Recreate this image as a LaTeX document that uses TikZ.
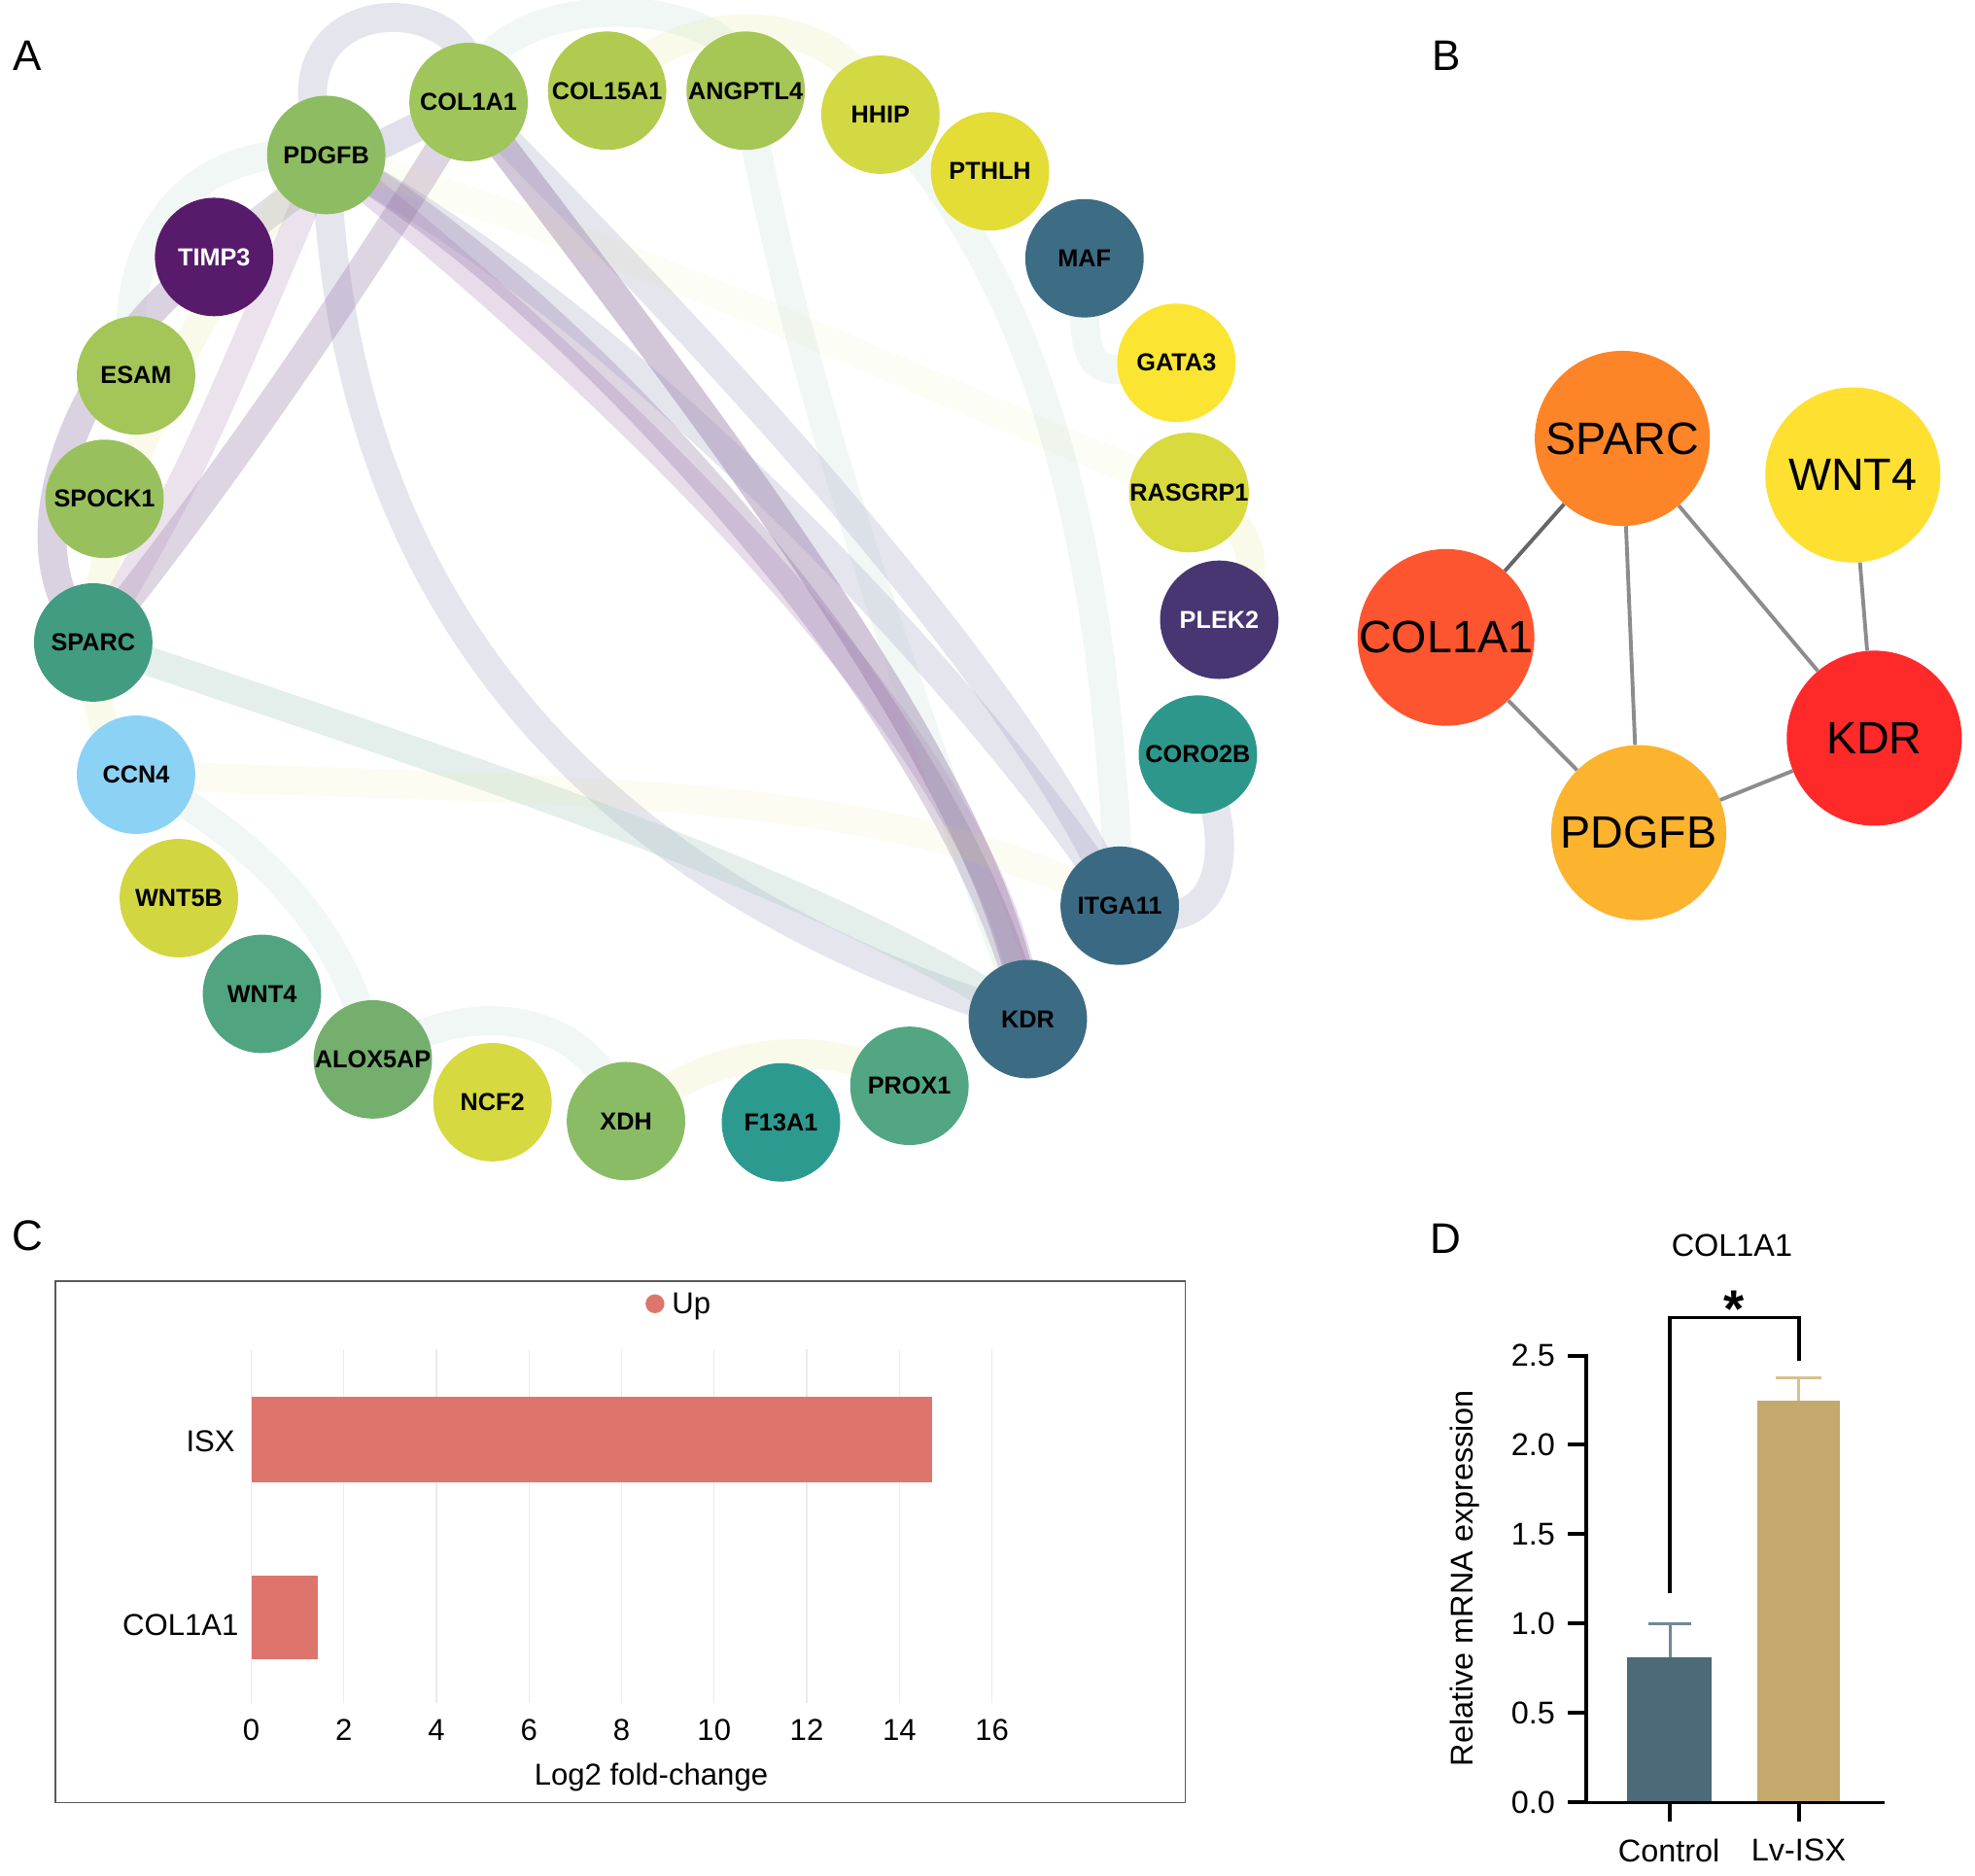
\documentclass[tikz,border=0pt]{standalone}
\usepackage{fontspec}
\setmainfont{Liberation Sans}
\usepackage{xcolor}
\usetikzlibrary{positioning}

% node colours, panel A
\definecolor{cCOLIAI}{HTML}{9FC55B}
\definecolor{cCOLXV}{HTML}{B0CB4F}
\definecolor{cANGPTL}{HTML}{A6C655}
\definecolor{cHHIP}{HTML}{D3D942}
\definecolor{cPTHLH}{HTML}{E3DD36}
\definecolor{cMAF}{HTML}{3D6C85}
\definecolor{cGATA}{HTML}{FBE532}
\definecolor{cRASGRP}{HTML}{D8DA3D}
\definecolor{cPLEK}{HTML}{473672}
\definecolor{cCORO}{HTML}{2E978C}
\definecolor{cITGA}{HTML}{3A6A83}
\definecolor{cKDR}{HTML}{3C6C84}
\definecolor{cPROX}{HTML}{52A684}
\definecolor{cFXIII}{HTML}{2D9A8F}
\definecolor{cXDH}{HTML}{8ABC65}
\definecolor{cNCF}{HTML}{D6D93F}
\definecolor{cALOX}{HTML}{74AF6E}
\definecolor{cWNTfour}{HTML}{50A47F}
\definecolor{cWNTfiveB}{HTML}{D2D641}
\definecolor{cCCN}{HTML}{8CD2F5}
\definecolor{cSPARC}{HTML}{419C82}
\definecolor{cSPOCK}{HTML}{98C15D}
\definecolor{cESAM}{HTML}{A4C557}
\definecolor{cTIMP}{HTML}{581B6C}
\definecolor{cPDGFB}{HTML}{8DBC62}
% edge colours, panel A
\definecolor{tiepurple}{HTML}{8A6A9C}
\definecolor{tielav}{HTML}{9A98BE}
\definecolor{tiepink}{HTML}{B48EBE}
\definecolor{tieteal}{HTML}{A7CBC0}
\definecolor{tieyellow}{HTML}{E2E47A}
% panel B
\definecolor{hubSPARC}{HTML}{FD8427}
\definecolor{hubWNT}{HTML}{FEE030}
\definecolor{hubCOL}{HTML}{FD5530}
\definecolor{hubKDR}{HTML}{FE2A2A}
\definecolor{hubPDGFB}{HTML}{FCB32E}
\definecolor{linkgray}{HTML}{8C8C8C}
% panels C and D
\definecolor{upred}{HTML}{DD756D}
\definecolor{ctrlblue}{HTML}{4D6A78}
\definecolor{ctrlerr}{HTML}{6E8896}
\definecolor{lvtan}{HTML}{C5A86B}
\definecolor{lverr}{HTML}{D6C08F}

\pgfdeclarelayer{bg}
\pgfdeclarelayer{ties}
\pgfsetlayers{bg,ties,main}

\begin{document}
\begin{tikzpicture}[x=1pt, y=-1pt,
    gene/.style={circle, minimum size=94pt, inner sep=0pt, font=\fontsize{19.5}{20}\selectfont\bfseries},
    tie/.style={line width=23pt, line cap=round, opacity=0.25},
    faint/.style={opacity=0.15},
    hub/.style={circle, minimum size=139pt, inner sep=0pt, font=\fontsize{36}{36}\selectfont},
    link/.style={line width=3pt, draw=linkgray},
    panel/.style={font=\fontsize{34}{34}\selectfont},
    axislbl/.style={font=\fontsize{24}{24}\selectfont},
    dlbl/.style={font=\fontsize{25}{25}\selectfont},
    gridline/.style={line width=1pt, draw=black!8}]

    \useasboundingbox (0,0) rectangle (1568,1489);
    \begin{pgfonlayer}{bg}
    \fill[white] (0,0) rectangle (1568,1489);
    \end{pgfonlayer}

    % Panel letters
    \node[panel] (labA) at (22,44) {A};
    \node[panel] (labB) at (1148,44) {B};
    \node[panel] (labC) at (22,981) {C};
    \node[panel] (labD) at (1148,983) {D};

    % Panel A: circle of genes
    \node[gene, fill=cCOLIAI] (aCOL1A1) at (372,81) {COL1A1};
    \node[gene, fill=cCOLXV] (aCOL15A1) at (482,72) {COL15A1};
    \node[gene, fill=cANGPTL] (aANGPTL4) at (592,72) {ANGPTL4};
    \node[gene, fill=cHHIP] (aHHIP) at (699,91) {HHIP};
    \node[gene, fill=cPTHLH] (aPTHLH) at (786,136) {PTHLH};
    \node[gene, fill=cMAF] (aMAF) at (861,205) {MAF};
    \node[gene, fill=cGATA] (aGATA3) at (934,288) {GATA3};
    \node[gene, fill=cRASGRP] (aRASGRP1) at (944,391) {RASGRP1};
    \node[gene, fill=cPLEK, text=white] (aPLEK2) at (968,492) {PLEK2};
    \node[gene, fill=cCORO] (aCORO2B) at (951,599) {CORO2B};
    \node[gene, fill=cITGA] (aITGA11) at (889,719) {ITGA11};
    \node[gene, fill=cKDR] (aKDR) at (816,809) {KDR};
    \node[gene, fill=cPROX] (aPROX1) at (722,862) {PROX1};
    \node[gene, fill=cFXIII] (aF13A1) at (620,891) {F13A1};
    \node[gene, fill=cXDH] (aXDH) at (497,890) {XDH};
    \node[gene, fill=cNCF] (aNCF2) at (391,875) {NCF2};
    \node[gene, fill=cALOX] (aALOX5AP) at (296,841) {ALOX5AP};
    \node[gene, fill=cWNTfour] (aWNT4) at (208,789) {WNT4};
    \node[gene, fill=cWNTfiveB] (aWNT5B) at (142,713) {WNT5B};
    \node[gene, fill=cCCN] (aCCN4) at (108,615) {CCN4};
    \node[gene, fill=cSPARC] (aSPARC) at (74,510) {SPARC};
    \node[gene, fill=cSPOCK] (aSPOCK1) at (83,396) {SPOCK1};
    \node[gene, fill=cESAM] (aESAM) at (108,298) {ESAM};
    \node[gene, fill=cTIMP, text=white] (aTIMP3) at (170,204) {TIMP3};
    \node[gene, fill=cPDGFB] (aPDGFB) at (259,123) {PDGFB};

    % Panel A: ribbons behind the genes
    \begin{pgfonlayer}{ties}
    \draw[tie, tiepurple, opacity=0.38] (aCOL1A1.center) .. controls (560,330) and (790,620) .. (aKDR.center);
    \draw[tie, tiepink, opacity=0.3] (aPDGFB.center) .. controls (480,300) and (800,600) .. (aKDR.center);
    \draw[tie, tiepurple, opacity=0.28] (aPDGFB.center) .. controls (430,210) and (760,560) .. (aKDR.center);
    \draw[tie, tielav] (aCOL1A1.center) .. controls (620,330) and (820,560) .. (aITGA11.center);
    \draw[tie, tielav] (aPDGFB.center) .. controls (520,260) and (800,580) .. (aITGA11.center);
    \draw[tie, tielav] (aPDGFB.center) .. controls (270,520) and (520,720) .. (aKDR.center);
    \draw[tie, tieteal, opacity=0.3] (aSPARC.center) .. controls (400,620) and (650,700) .. (aKDR.center);
    \draw[tie, tiepurple, opacity=0.28] (aSPARC.center) .. controls (180,380) and (300,200) .. (aCOL1A1.center);
    \draw[tie, tiepink] (aSPARC.center) .. controls (150,380) .. (aPDGFB.center);
    \draw[tie, tiepurple, opacity=0.3] (aSPARC.center) .. controls (0,440) and (60,280) .. (aTIMP3.center);
    \draw[tie, tielav, opacity=0.3] (aTIMP3.center) .. controls (250,140) .. (aCOL1A1.center);
    \draw[tie, tielav] (aPDGFB.center) .. controls (200,-20) and (400,-10) .. (aCOL1A1.center);
    \draw[tie, tieteal, faint] (aCOL1A1.center) .. controls (380,-15) and (600,-10) .. (aANGPTL4.center);
    \draw[tie, tieteal, faint] (aANGPTL4.center) .. controls (640,350) and (760,650) .. (aKDR.center);
    \draw[tie, tieyellow, faint] (aCOL15A1.center) .. controls (560,-10) and (680,20) .. (aHHIP.center);
    \draw[tie, tieteal, faint] (aHHIP.center) .. controls (850,250) and (880,500) .. (aITGA11.center);
    \draw[tie, tieteal, faint] (aMAF.center) .. controls (860,300) .. (aGATA3.center);
    \draw[tie, tielav] (aCORO2B.center) .. controls (990,690) and (960,750) .. (aITGA11.center);
    \draw[tie, tieyellow, faint] (aRASGRP1.center) .. controls (1010,420) and (1000,470) .. (aPLEK2.center);
    \draw[tie, tieyellow, opacity=0.07] (aPDGFB.center) .. controls (520,200) and (760,320) .. (aRASGRP1.center);
    \draw[tie, tieyellow, opacity=0.09] (aCCN4.center) .. controls (450,630) and (700,620) .. (aITGA11.center);
    \draw[tie, tieyellow, faint] (aPDGFB.center) .. controls (120,260) and (20,540) .. (aCCN4.center);
    \draw[tie, tieteal, faint] (aPDGFB.center) .. controls (130,110) and (90,220) .. (aESAM.center);
    \draw[tie, tieteal, faint] (aCCN4.center) .. controls (230,680) and (280,760) .. (aALOX5AP.center);
    \draw[tie, tieteal, faint] (aALOX5AP.center) .. controls (370,790) and (470,800) .. (aXDH.center);
    \draw[tie, tieyellow, faint] (aXDH.center) .. controls (560,830) and (660,820) .. (aPROX1.center);
    \end{pgfonlayer}

    % Panel B: hub genes
    \node[hub, fill=hubSPARC] (bSPARC) at (1288,348) {SPARC};
    \node[hub, fill=hubWNT] (bWNT4) at (1471,377) {WNT4};
    \node[hub, fill=hubCOL] (bCOL1A1) at (1148,506) {COL1A1};
    \node[hub, fill=hubKDR] (bKDR) at (1488,586) {KDR};
    \node[hub, fill=hubPDGFB] (bPDGFB) at (1301,661) {PDGFB};

    \draw[link, draw=black!60] (bSPARC) -- (bCOL1A1);
    \draw[link] (bSPARC) -- (bPDGFB);
    \draw[link] (bSPARC) -- (bKDR);
    \draw[link] (bWNT4) -- (bKDR);
    \draw[link] (bCOL1A1) -- (bPDGFB);
    \draw[link] (bPDGFB) -- (bKDR);

    % Panel C: fold-change bars
    \draw[black!65, line width=1.5pt] (44,1017) rectangle (941,1431);
    \fill[upred] (520,1035) circle (7.5);
    \node[axislbl, right=2pt of {(528,1037)}] (upkey) {Up};
    \foreach \v in {0,2,...,16} {
        \draw[gridline] (199.5+36.75*\v,1071) -- (199.5+36.75*\v,1352);
        \node[axislbl] (ctick\v) at (199.5+36.75*\v,1373) {\v};
    }
    \fill[upred] (199.5,1109) rectangle (739.7,1177);
    \fill[upred] (199.5,1251) rectangle (252.5,1317);
    \node[axislbl, anchor=east] (isxname) at (190,1144) {ISX};
    \node[axislbl, anchor=east] (colname) at (193,1290) {COL1A1};
    \node[axislbl] (fcaxis) at (517,1411) {Log2 fold-change};

    % Panel D: qPCR bars
    \node[dlbl] (dtitle) at (1375,989) {COL1A1};
    \fill[ctrlblue] (1292,1431) rectangle (1359,1316);
    \fill[lvtan] (1395,1431) rectangle (1461,1112);
    \draw[ctrlerr, line width=2.5pt] (1326,1316) -- (1326,1289) (1309,1289) -- (1343,1289);
    \draw[lverr, line width=2.5pt] (1428,1112) -- (1428,1094) (1410,1094) -- (1446,1094);
    \draw[line width=3pt] (1259,1075) -- (1259,1431) -- (1496,1431);
    \foreach \v/\t in {0/0.0, 0.5/0.5, 1/1.0, 1.5/1.5, 2/2.0, 2.5/2.5} {
        \draw[line width=3pt] (1245,1430.6-141.8*\v) -- (1259,1430.6-141.8*\v);
        \node[dlbl, anchor=east] (dtick\t) at (1238,1430.6-141.8*\v) {\t};
    }
    \draw[line width=3pt] (1326,1431) -- (1326,1446);
    \draw[line width=3pt] (1428,1431) -- (1428,1446);
    \node[dlbl] (ctrlname) at (1325,1469) {Control};
    \node[dlbl] (lvname) at (1428,1469) {Lv-ISX};
    \node[dlbl, rotate=90] (dyaxis) at (1163,1253) {Relative mRNA expression};
    \draw[line width=3pt] (1326,1265) -- (1326,1046) -- (1428,1046) -- (1428,1080);
    \node[font=\fontsize{42}{42}\selectfont\bfseries, anchor=base] (star) at (1377,1054) {*};
\end{tikzpicture}
\end{document}
